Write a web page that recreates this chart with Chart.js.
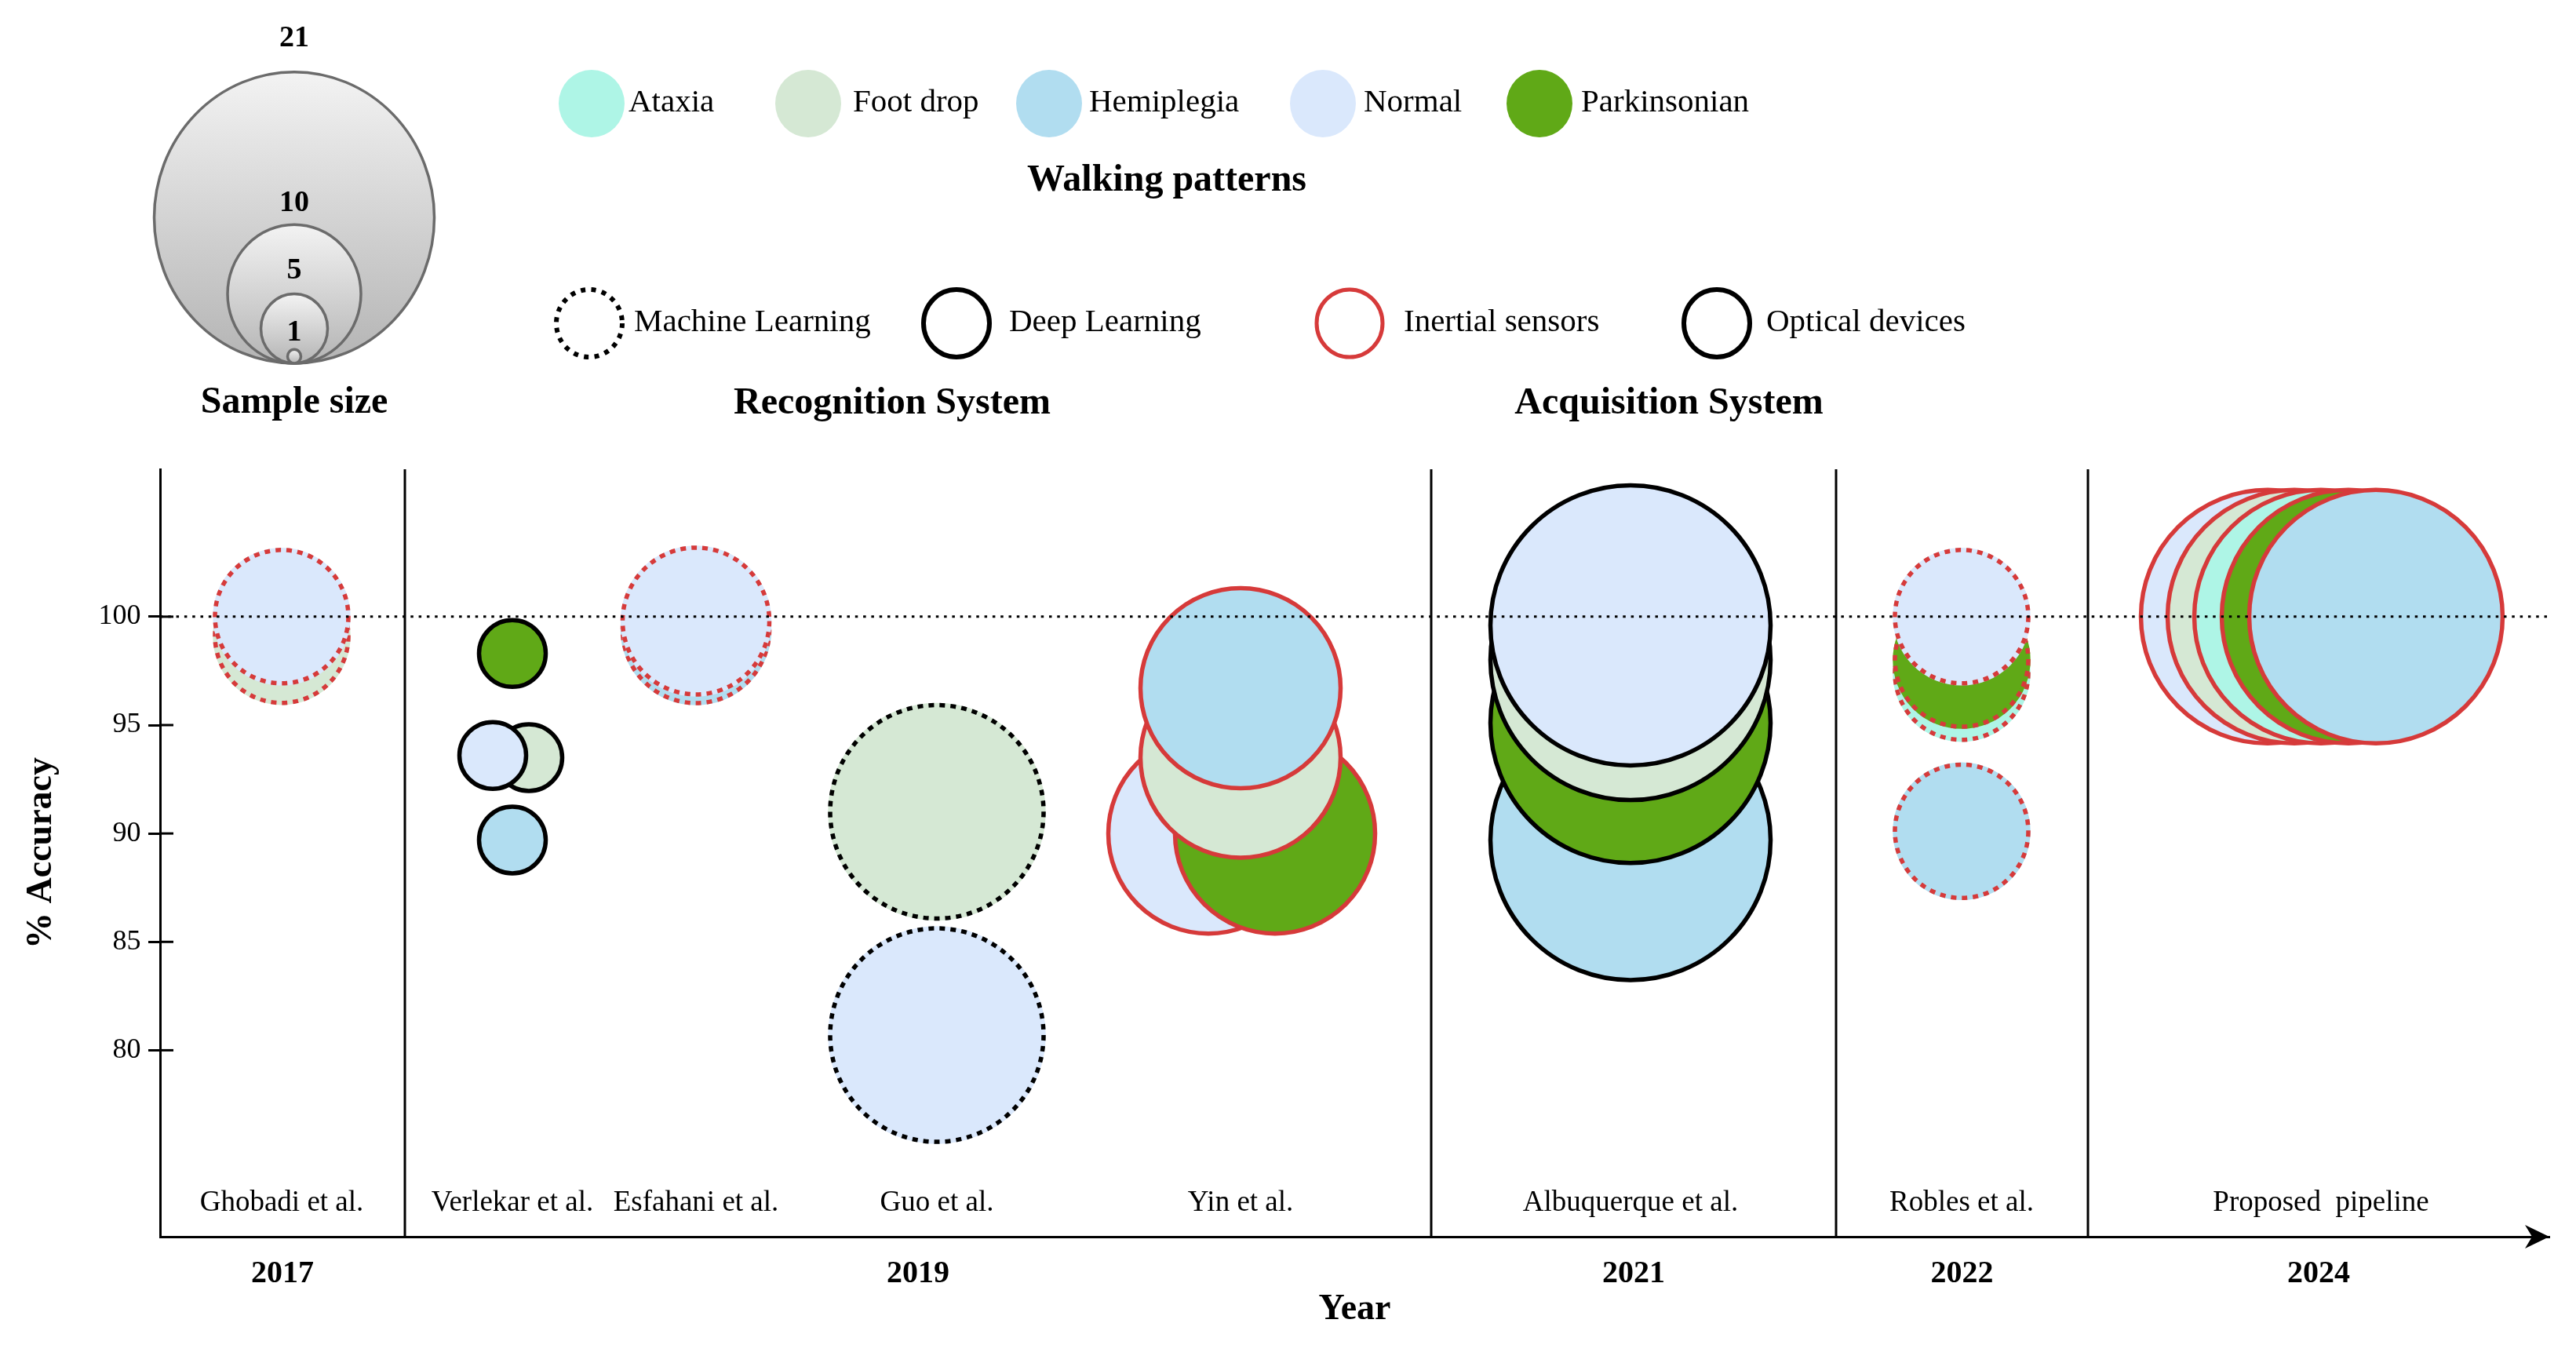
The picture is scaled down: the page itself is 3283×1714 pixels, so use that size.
<!DOCTYPE html>
<html>
<head>
<meta charset="utf-8">
<title>Gait pattern recognition studies</title>
<script src="https://cdn.jsdelivr.net/npm/chart.js@4.4.1/dist/chart.umd.min.js"></script>
<style>
  html, body { margin: 0; padding: 0; background: #fff; }
  #wrap { position: relative; width: 3283px; height: 1714px; }
</style>
</head>
<body>
<div id="wrap"><canvas id="chart"></canvas></div>
<script>
const studies = ['Ghobadi et al.', 'Verlekar et al.', 'Esfahani et al.', 'Guo et al.', 'Yin et al.', 'Albuquerque et al.', 'Robles et al.', 'Proposed  pipeline']
const studyPos = [1.55, 4.49, 6.83, 9.90, 13.77, 18.74, 22.96, 27.54]
const sampleSize = [10, 5, 11, 16, 15, 21, 10, 19]
const recognition = ['Machine Learning', 'Deep Learning', 'Machine Learning', 'Machine Learning', 'Deep Learning', 'Deep Learning', 'Machine Learning', 'Deep Learning']
const acquisition = ['Inertial sensors', 'Optical devices', 'Inertial sensors', 'Optical devices', 'Inertial sensors', 'Optical devices', 'Inertial sensors', 'Inertial sensors']

const patterns = ['Ataxia', 'Foot drop', 'Hemiplegia', 'Normal', 'Parkinsonian']
// % accuracy per study (null = pattern not studied)
const accAtaxia       = [null, null, null, null, null, null, 97.4, 100]
const accFootDrop     = [99.1, 93.5, null, 91.0, 93.5, 98.0, null, 100]
const accHemiplegia   = [null, 89.7, 99.4, null, 96.7, 89.7, 90.1, 100]
const accNormal       = [100, 93.6, 99.8, 80.7, 90.0, 99.6, 100, 100]
const accParkinsonian = [null, 98.3, null, null, 90.0, 95.1, 98.0, 100]

const years = ['2017', '2019', '2021', '2022', '2024']
const yearEdges = [0, 3.12, 16.2, 21.36, 24.57, 30.45]
const yTicks = [80, 85, 90, 95, 100]
const refAccuracy = 100
const sizeKey = [21, 10, 5, 1]

// small sideways shifts so bubbles of one study don't hide each other
const dodge = {
    'Verlekar et al.': { 'Normal': -0.25, 'Foot drop': 0.21 },
    'Yin et al.': { 'Normal': -0.41, 'Parkinsonian': 0.44 },
    'Proposed  pipeline': { 'Normal': -0.68, 'Foot drop': -0.34, 'Parkinsonian': 0.35, 'Hemiplegia': 0.70 }
}

const SERIF = '"Liberation Serif", "Times New Roman", serif'
const RED = '#d63a3a'
const R_PER_SUBJECT = 8.5
const colors = {
    'Ataxia': '#aef5e6',
    'Foot drop': '#d5e8d4',
    'Hemiplegia': '#b1ddf0',
    'Normal': '#dae8fc',
    'Parkinsonian': '#60a917'
}

const accuracy = [accAtaxia, accFootDrop, accHemiplegia, accNormal, accParkinsonian]
const yearCentres = years.map((y, i) => (yearEdges[i] + yearEdges[i + 1]) / 2)

const datasets = studies.map((s, i) => {
    const pts = []
    patterns.forEach((p, k) => {
        const acc = accuracy[k][i]
        if (acc === null) return
        const dx = (dodge[s] && dodge[s][p]) || 0
        pts.push({ x: studyPos[i] + dx, y: acc, r: sampleSize[i] * R_PER_SUBJECT, pattern: p })
    })
    // higher accuracy drawn last (on top)
    pts.sort((a, b) => a.y - b.y || a.x - b.x)
    return {
        label: s,
        data: pts,
        backgroundColor: pts.map(d => colors[d.pattern]),
        borderColor: acquisition[i] === 'Inertial sensors' ? RED : '#000',
        borderWidth: 5.5,
        dashed: recognition[i] === 'Machine Learning'
    }
})

//## dashed outline for machine learning studies
const dashPlugin = {
    id: 'dashedBorders',
    beforeDatasetDraw(chart, args) {
        const ds = chart.data.datasets[args.index]
        if (!ds.dashed) return
        const stroke = CanvasRenderingContext2D.prototype.stroke
        chart.ctx.stroke = function () {
            this.save()
            this.setLineDash([])
            this.strokeStyle = this.fillStyle
            stroke.call(this)
            this.restore()
            this.setLineDash([7, 7])
            stroke.call(this)
            this.setLineDash([])
        }
    },
    afterDatasetDraw(chart) {
        delete chart.ctx.stroke
    }
}

//## separators, reference line, study names, arrow
const overlayPlugin = {
    id: 'overlay',
    afterDatasetsDraw(chart) {
        const ctx = chart.ctx
        const { left, right, top, bottom } = chart.chartArea
        const xs = chart.scales.x
        const ys = chart.scales.y
        ctx.save()
        ctx.strokeStyle = '#000'
        ctx.lineWidth = 3
        yearEdges.slice(1, -1).forEach(e => {
            const px = Math.round(xs.getPixelForValue(e))
            ctx.beginPath()
            ctx.moveTo(px, top)
            ctx.lineTo(px, bottom)
            ctx.stroke()
        })
        // inner half of the y tick marks
        yTicks.forEach(v => {
            const py = ys.getPixelForValue(v)
            ctx.beginPath()
            ctx.moveTo(left, py)
            ctx.lineTo(left + 17, py)
            ctx.stroke()
        })
        // dotted 100 % line
        const py = ys.getPixelForValue(refAccuracy)
        ctx.setLineDash([3.5, 6.8])
        ctx.beginPath()
        ctx.moveTo(left, py)
        ctx.lineTo(right, py)
        ctx.stroke()
        ctx.setLineDash([])

        // arrow head
        ctx.fillStyle = '#000'
        ctx.beginPath()
        ctx.moveTo(right, bottom)
        ctx.lineTo(right - 31, bottom - 15)
        ctx.lineTo(right - 22, bottom)
        ctx.lineTo(right - 31, bottom + 15)
        ctx.closePath()
        ctx.fill()

        ctx.font = `37px ${SERIF}`
        ctx.textAlign = 'center'
        ctx.textBaseline = 'alphabetic'
        studies.forEach((s, i) => {
            ctx.fillText(s, xs.getPixelForValue(studyPos[i]), bottom - 33)
        })
        ctx.restore()
    }
}

//## legends above the plot
const headerPlugin = {
    id: 'header',
    afterDraw(chart) {
        const ctx = chart.ctx
        ctx.save()

        // sample size key, circles resting on one point
        const cx = 375, base = 463
        sizeKey.forEach(n => {
            const r = n * R_PER_SUBJECT
            const ry = r * 1.04
            const cy = base - ry
            const g = ctx.createLinearGradient(0, cy - ry, 0, cy + ry)
            g.addColorStop(0, '#f3f3f3')
            g.addColorStop(1, '#b4b4b4')
            ctx.beginPath()
            ctx.ellipse(cx, cy, r, ry, 0, 0, Math.PI * 2)
            ctx.fillStyle = g
            ctx.fill()
            ctx.lineWidth = 3.5
            ctx.strokeStyle = '#6b6b6b'
            ctx.stroke()
        })
        const sizeLabelY = [49, 259, 345, 424]
        ctx.fillStyle = '#000'
        ctx.textAlign = 'center'
        ctx.textBaseline = 'middle'
        ctx.font = `bold 38px ${SERIF}`
        sizeKey.forEach((n, i) => ctx.fillText(String(n), cx, sizeLabelY[i]))

        // walking patterns
        const patX = [754, 1030, 1337, 1686, 1962]
        const patTextX = [801, 1087, 1388, 1738, 2015]
        ctx.font = `41px ${SERIF}`
        patterns.forEach((p, i) => {
            ctx.beginPath()
            ctx.ellipse(patX[i], 132, 42, 43, 0, 0, Math.PI * 2)
            ctx.fillStyle = colors[p]
            ctx.fill()
            ctx.fillStyle = '#000'
            ctx.textAlign = 'left'
            ctx.fillText(p, patTextX[i], 131)
        })

        // recognition / acquisition systems
        const sysItems = [
            { text: 'Machine Learning', color: '#000', dash: [6, 7.5], width: 6 },
            { text: 'Deep Learning', color: '#000', dash: [], width: 6 },
            { text: 'Inertial sensors', color: RED, dash: [], width: 5 },
            { text: 'Optical devices', color: '#000', dash: [], width: 6 }
        ]
        const sysX = [751, 1219, 1720, 2188]
        const sysTextX = [808, 1286, 1789, 2251]
        sysItems.forEach((it, i) => {
            ctx.beginPath()
            ctx.ellipse(sysX[i], 412, 42, 43, 0, 0, Math.PI * 2)
            ctx.setLineDash(it.dash)
            ctx.lineWidth = it.width
            ctx.strokeStyle = it.color
            ctx.stroke()
            ctx.setLineDash([])
            ctx.fillStyle = '#000'
            ctx.textAlign = 'left'
            ctx.fillText(it.text, sysTextX[i], 411)
        })

        ctx.font = `bold 48px ${SERIF}`
        ctx.textAlign = 'center'
        ctx.fillText('Walking patterns', 1487, 231)
        ctx.fillText('Sample size', 375, 514)
        ctx.fillText('Recognition System', 1137, 515)
        ctx.fillText('Acquisition System', 2127, 515)
        ctx.restore()
    }
}

const ctx = document.querySelector('#chart').getContext('2d')

new Chart(ctx, {
    type: 'bubble',
    data: { datasets: datasets },
    options: {
        responsive: true,
        maintainAspectRatio: false,
        animation: false,
        events: [],
        layout: {
            autoPadding: false,
            padding: { top: 598, right: 34, left: 0, bottom: 0 }
        },
        plugins: {
            legend: { display: false },
            tooltip: { enabled: false }
        },
        scales: {
            x: {
                type: 'linear',
                min: yearEdges[0],
                max: yearEdges[yearEdges.length - 1],
                grid: { display: false, drawTicks: false },
                border: { display: true, color: '#000', width: 3 },
                afterBuildTicks: sc => { sc.ticks = yearCentres.map(v => ({ value: v })) },
                afterFit: sc => { sc.height = 138 },
                ticks: {
                    autoSkip: false,
                    maxRotation: 0,
                    padding: 24,
                    color: '#000',
                    font: { family: SERIF, size: 40, weight: 'bold', lineHeight: 1.2 },
                    callback: (v, i) => years[i]
                },
                title: {
                    display: true,
                    text: 'Year',
                    color: '#000',
                    font: { family: SERIF, size: 46, weight: 'bold', lineHeight: 1.2 },
                    padding: { top: 0, bottom: 17 }
                }
            },
            y: {
                type: 'linear',
                min: 71.4,
                max: 106.8,
                grid: {
                    display: true,
                    drawOnChartArea: false,
                    drawTicks: true,
                    tickLength: 15,
                    color: '#000',
                    lineWidth: 3,
                    tickColor: '#000',
                    tickWidth: 3
                },
                border: { display: true, color: '#000', width: 3 },
                afterBuildTicks: sc => { sc.ticks = yTicks.map(v => ({ value: v })) },
                afterFit: sc => { sc.width = 204 },
                ticks: {
                    padding: 9.5,
                    color: '#000',
                    font: { family: SERIF, size: 36 }
                },
                title: {
                    display: true,
                    text: '% Accuracy',
                    color: '#000',
                    font: { family: SERIF, size: 46, weight: 'bold', lineHeight: 1.2 },
                    padding: { top: 26, bottom: 0 }
                }
            }
        }
    },
    plugins: [dashPlugin, overlayPlugin, headerPlugin]
})
</script>
</body>
</html>
